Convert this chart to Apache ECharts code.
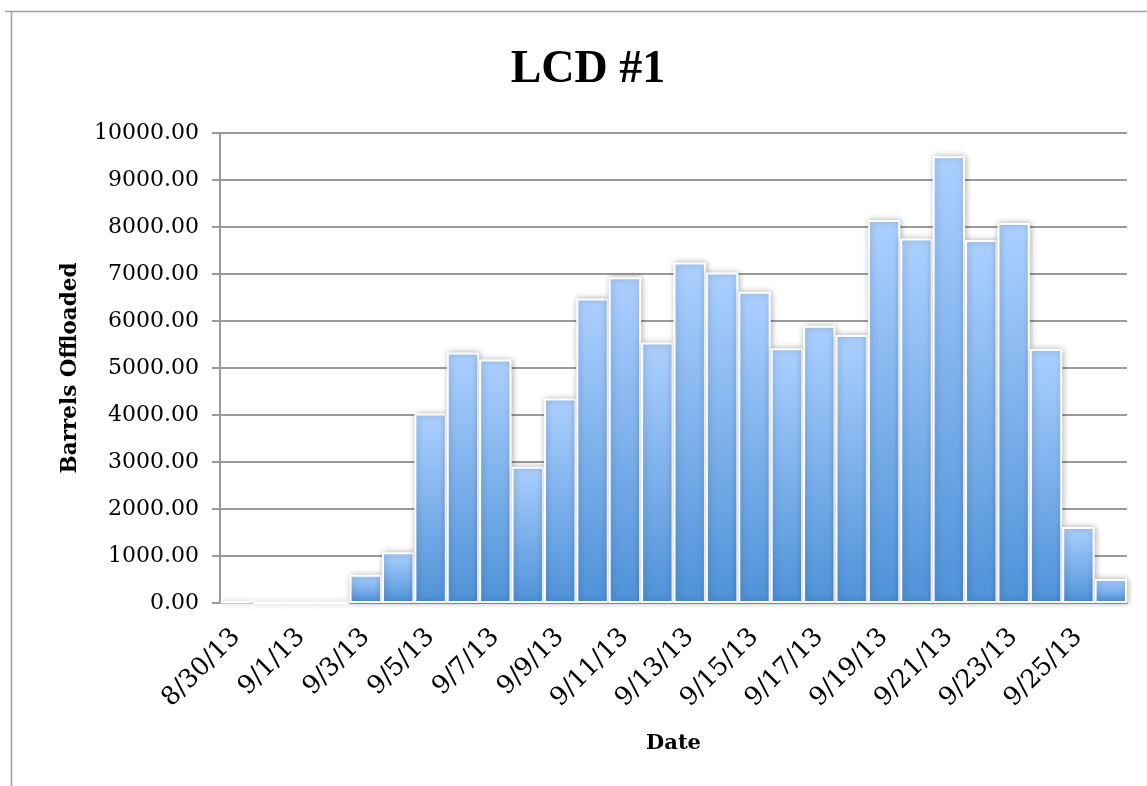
<!DOCTYPE html>
<html>
<head>
<meta charset="utf-8">
<title>LCD #1</title>
<script src="https://cdn.jsdelivr.net/npm/echarts@6/dist/echarts.min.js"></script>
<style>
  html, body { margin: 0; padding: 0; background: #ffffff; }
  #chart { width: 1147px; height: 786px; }
</style>
</head>
<body>
<div id="chart"></div>
<script>
// Daily offload dates (8/30/13 through 9/26/13)
const dates = [
  '8/30/13', '8/31/13', '9/1/13', '9/2/13', '9/3/13', '9/4/13', '9/5/13',
  '9/6/13', '9/7/13', '9/8/13', '9/9/13', '9/10/13', '9/11/13', '9/12/13',
  '9/13/13', '9/14/13', '9/15/13', '9/16/13', '9/17/13', '9/18/13', '9/19/13',
  '9/20/13', '9/21/13', '9/22/13', '9/23/13', '9/24/13', '9/25/13', '9/26/13'
];

// Barrels offloaded per day
const barrels = [
  25, 0, 0, 0, 600, 1080, 4030,
  5330, 5180, 2900, 4350, 6480, 6930, 5540,
  7245, 7030, 6625, 5420, 5900, 5700, 8150,
  7755, 9505, 7725, 8085, 5405, 1615, 510
];

// Value axis ticks
const yMin = 0;
const yMax = 10000;
const yStep = 1000;

const serif = '"DejaVu Serif", "Liberation Serif", serif';
const titleSerif = '"Liberation Serif", "DejaVu Serif", serif';
const gridGray = '#9a9a9a';

const chart = echarts.init(document.getElementById('chart'), null, { renderer: 'canvas' });

chart.setOption({
  backgroundColor: '#ffffff',
  animation: false,
  title: {
    text: 'LCD #1',
    left: 583,
    top: 42,
    textAlign: 'center',
    textStyle: { fontFamily: titleSerif, fontWeight: 'bold', fontSize: 46, color: '#000' }
  },
  grid: { left: 220, right: 20, top: 133, bottom: 183, containLabel: false },
  xAxis: {
    type: 'category',
    data: dates,
    boundaryGap: true,
    name: 'Date',
    nameLocation: 'middle',
    nameGap: 130,
    nameTextStyle: { fontFamily: serif, fontWeight: 'bold', fontSize: 21, color: '#000' },
    axisLine: { show: true, lineStyle: { color: gridGray, width: 2 } },
    axisTick: { show: false },
    axisLabel: {
      interval: 1,
      rotate: 45,
      margin: 30,
      fontFamily: serif,
      fontSize: 25.5,
      color: '#000'
    },
    splitLine: { show: false }
  },
  yAxis: {
    type: 'value',
    min: yMin,
    max: yMax,
    interval: yStep,
    name: 'Barrels Offloaded',
    nameLocation: 'middle',
    nameGap: 139,
    nameRotate: 90,
    nameTextStyle: { fontFamily: serif, fontWeight: 'bold', fontSize: 21.5, color: '#000' },
    axisLine: { show: true, lineStyle: { color: gridGray, width: 2 } },
    axisTick: { show: true, inside: false, length: 8, lineStyle: { color: gridGray, width: 2 } },
    axisLabel: {
      margin: 21,
      fontFamily: serif,
      fontSize: 22,
      color: '#000',
      formatter: v => v.toFixed(2)
    },
    splitLine: { show: true, lineStyle: { color: gridGray, width: 2 } }
  },
  series: [{
    type: 'bar',
    data: barrels,
    barCategoryGap: '0%',
    itemStyle: {
      color: new echarts.graphic.LinearGradient(0, 0, 0, 1, [
        { offset: 0, color: '#acd0ff' },
        { offset: 1, color: '#4e92d8' }
      ]),
      borderColor: '#ffffff',
      borderWidth: 2,
      shadowBlur: 6,
      shadowOffsetX: 1,
      shadowColor: 'rgba(0,0,0,0.28)'
    }
  }],
  graphic: [
    {
      type: 'line',
      shape: { x1: 5, y1: 11.5, x2: 1147, y2: 11.5 },
      style: { stroke: '#a0a0a0', lineWidth: 1.5 }
    },
    {
      type: 'line',
      shape: { x1: 11.5, y1: 11, x2: 11.5, y2: 786 },
      style: { stroke: '#a0a0a0', lineWidth: 1.5 }
    }
  ]
});
</script>
</body>
</html>
